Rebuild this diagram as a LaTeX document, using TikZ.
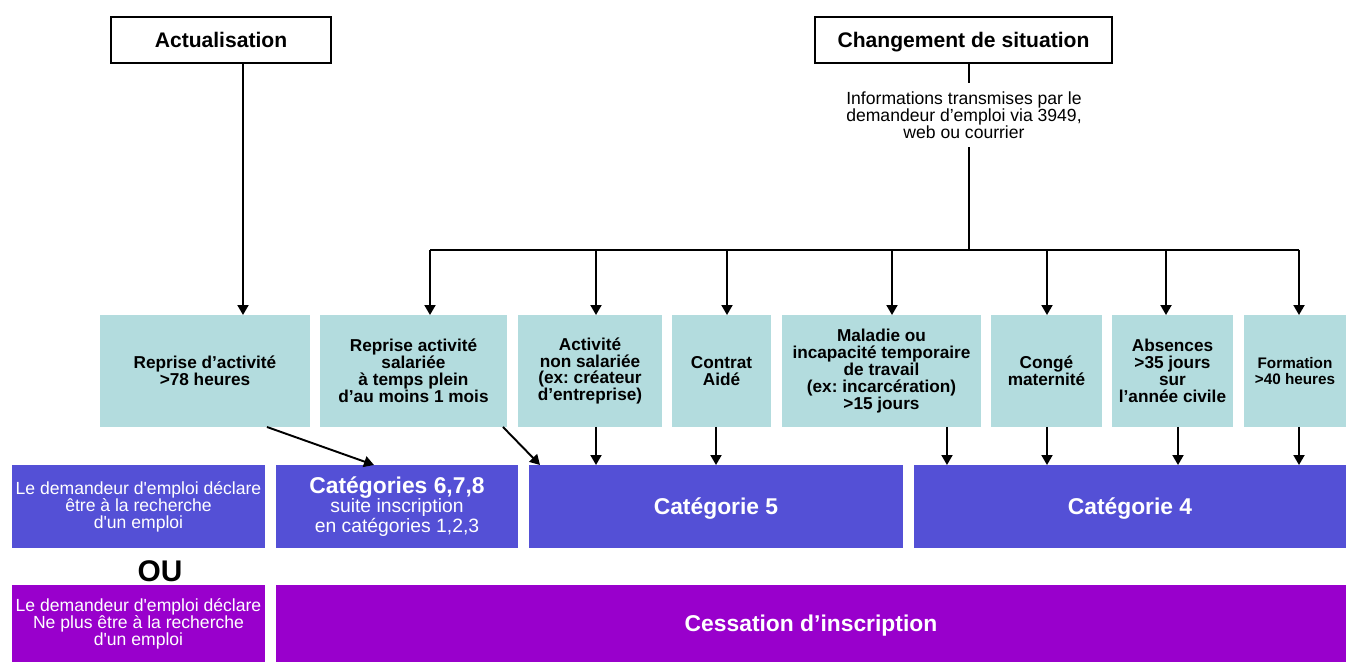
\documentclass[tikz,border=0pt]{standalone}
\usepackage{fontspec}
\setmainfont{Liberation Sans}
\usetikzlibrary{arrows.meta,positioning,calc}
\definecolor{PeTeal}{HTML}{B3DCDE}
\definecolor{PeBlue}{HTML}{5450D6}
\definecolor{PeViolet}{HTML}{9900CC}
\tikzset{
  headbox/.style={draw=black,line width=1pt,inner sep=0pt,text depth=0pt,minimum height=0.92cm,font=\bfseries\fontsize{12}{14}\selectfont},
  casebox/.style={fill=PeTeal,inner sep=0pt,outer sep=0pt,minimum height=2.24cm,align=center,font=\bfseries\fontsize{9.8}{9.6}\selectfont},
  catbox/.style={fill=PeBlue,text=white,inner sep=0pt,outer sep=0pt,minimum height=1.66cm,align=center,font=\bfseries\fontsize{13}{15}\selectfont},
  declbox/.style={inner sep=0pt,outer sep=0pt,minimum width=5.06cm,align=center,text=white,font=\fontsize{10}{9.7}\selectfont},
  cessbox/.style={fill=PeViolet,text=white,inner sep=0pt,outer sep=0pt,text depth=0pt,minimum height=1.54cm,align=center,font=\bfseries\fontsize{13}{15}\selectfont},
  treeline/.style={line width=1.1pt,draw=black},
  treearrow/.style={treeline,-{Triangle[length=2mm,width=2.2mm]}}
}

\begin{document}
\frenchspacing
\begin{tikzpicture}[x=0.02cm,y=-0.02cm]
\useasboundingbox (0,0) rectangle (1346,662);
\node[headbox,minimum width=4.4cm] (act) at (221,40) {Actualisation};
\node[headbox,minimum width=5.94cm] (chg) at (963.5,40) {Changement de situation};
\node[align=center,inner xsep=2pt,inner ysep=5pt,font=\fontsize{10}{9.6}\selectfont] (info) at (964,115) {Informations transmises par le\\demandeur d’emploi via 3949,\\web ou courrier};
\coordinate (bus) at (969,250);

\node[casebox,minimum width=4.2cm] (r1) at (205,371) {Reprise d’activité\\>78 heures};
\node[casebox,minimum width=3.74cm] (r2) at (413.5,371) {Reprise activité\\salariée\\à temps plein\\d’au moins 1 mois};
\node[casebox,minimum width=2.88cm] (r3) at (590,371) {Activité\\non salariée\\(ex: créateur\\d’entreprise)};
\node[casebox,minimum width=1.98cm] (r4) at (721.5,371) {Contrat\\Aidé};
\node[casebox,minimum width=3.98cm] (r5) at (881.5,371) {Maladie ou\\incapacité temporaire\\de travail\\(ex: incarcération)\\>15 jours};
\node[casebox,minimum width=2.22cm] (r6) at (1046.5,371) {Congé\\maternité};
\node[casebox,minimum width=2.42cm] (r7) at (1172.5,371) {Absences\\>35 jours\\sur\\l’année civile};
\node[casebox,minimum width=2.04cm,font=\bfseries\fontsize{8.7}{8.9}\selectfont] (r8) at (1295,371) {Formation\\>40 heures};

\node[declbox,fill=PeBlue,minimum height=1.66cm] (decl1) at (138.5,506.5) {Le demandeur d\textquotesingle emploi déclare\\être à la recherche\\d\textquotesingle un emploi};
\node[catbox,minimum width=4.84cm,font=\fontsize{11}{11}\selectfont] (cat678) at (397,506.5) {{\bfseries\fontsize{13}{15}\selectfont Catégories 6,7,8}\\suite inscription\\en catégories 1,2,3};
\node[catbox,minimum width=7.48cm,text depth=0pt] (cat5) at (716,506.5) {Catégorie 5};
\node[catbox,minimum width=8.64cm,text depth=0pt] (cat4) at (1130,506.5) {Catégorie 4};
\node[font=\bfseries\fontsize{17}{17}\selectfont,inner sep=0pt] (ou) at (160,571) {OU};
\node[declbox,fill=PeViolet,minimum height=1.54cm] (decl2) at (138.5,623.5) {Le demandeur d\textquotesingle emploi déclare\\Ne plus être à la recherche\\d\textquotesingle un emploi};
\node[cessbox,minimum width=21.4cm] (cess) at (811,623.5) {Cessation d’inscription};

\draw[treearrow] ([xshift=0.44cm]act.south) -- ([xshift=0.44cm]act.south |- r1.north);
\draw[treeline] ([xshift=0.11cm]chg.south) -- ([xshift=0.11cm]chg.south |- info.north);
\draw[treeline] (info.south -| bus) -- (bus);
\draw[treeline] ([xshift=0.33cm]r2.north |- bus) -- ([xshift=0.08cm]r8.north |- bus);
\draw[treearrow] ([xshift=0.33cm]r2.north |- bus) -- ([xshift=0.33cm]r2.north);
\draw[treearrow] ([xshift=0.12cm]r3.north |- bus) -- ([xshift=0.12cm]r3.north);
\draw[treearrow] ([xshift=0.11cm]r4.north |- bus) -- ([xshift=0.11cm]r4.north);
\draw[treearrow] ([xshift=0.21cm]r5.north |- bus) -- ([xshift=0.21cm]r5.north);
\draw[treearrow] ([xshift=0.01cm]r6.north |- bus) -- ([xshift=0.01cm]r6.north);
\draw[treearrow] ([xshift=-0.13cm]r7.north |- bus) -- ([xshift=-0.13cm]r7.north);
\draw[treearrow] ([xshift=0.08cm]r8.north |- bus) -- ([xshift=0.08cm]r8.north);

\draw[treearrow] ([xshift=1.24cm]r1.south) -- ([xshift=-0.46cm]cat678.north);
\draw[treearrow] ([xshift=-0.08cm]r2.south east) -- ([xshift=0.22cm]cat5.north west);
\draw[treearrow] ([xshift=0.12cm]r3.south) -- ([xshift=0.12cm]r3.south |- cat5.north);
\draw[treearrow] ([xshift=-0.11cm]r4.south) -- ([xshift=-0.11cm]r4.south |- cat5.north);
\draw[treearrow] ([xshift=1.31cm]r5.south) -- ([xshift=1.31cm]r5.south |- cat4.north);
\draw[treearrow] ([xshift=0.01cm]r6.south) -- ([xshift=0.01cm]r6.south |- cat4.north);
\draw[treearrow] ([xshift=0.11cm]r7.south) -- ([xshift=0.11cm]r7.south |- cat4.north);
\draw[treearrow] ([xshift=0.08cm]r8.south) -- ([xshift=0.08cm]r8.south |- cat4.north);
\end{tikzpicture}
\end{document}
